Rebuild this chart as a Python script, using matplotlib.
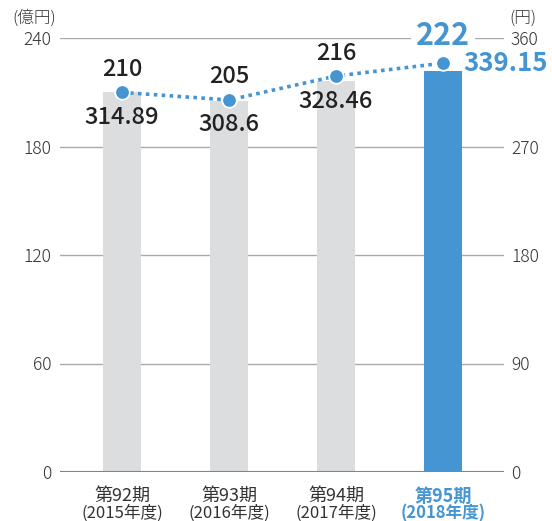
import matplotlib
matplotlib.use("Agg")
import matplotlib.pyplot as plt

plt.rcParams['font.family'] = ['Noto Sans CJK JP', 'DejaVu Sans']

periods = ["第92期", "第93期", "第94期", "第95期"]
years = ["(2015年度)", "(2016年度)", "(2017年度)", "(2018年度)"]
sales = [210, 205, 216, 222]          # 億円 (left axis)
eps = [314.89, 308.6, 328.46, 339.15]  # 円 (right axis)
sales_labels = ["210", "205", "216", "222"]
eps_labels = ["314.89", "308.6", "328.46", "339.15"]
left_ticks = [0, 60, 120, 180, 240]
right_ticks = [0, 90, 180, 270, 360]

BLUE = "#4495d1"
GRAY = "#dcdddf"
TXT = "#333333"

fig = plt.figure(figsize=(5.52, 5.21), dpi=100)
W, H = 552, 521
ax = fig.add_axes([60 / W, 1 - 472 / H, 444 / W, 434 / H])
ax2 = ax.twinx()

x = list(range(len(sales)))
colors = [GRAY] * (len(sales) - 1) + [BLUE]
ax.bar(x, sales, width=0.355, color=colors, zorder=2)
ax.set_xlim(-0.58, 3.57)
ax.set_ylim(0, 240)
ax2.set_ylim(0, 360)

for v in left_ticks[1:]:
    ax.axhline(v, color="#aaaaaa", lw=1, zorder=1)
ax.axhline(0, color=BLUE, lw=1.5, zorder=3)

for a in (ax, ax2):
    for s in a.spines.values():
        s.set_visible(False)
    a.tick_params(length=0)

ax.set_yticks(left_ticks)
ax.set_yticklabels([str(v) for v in left_ticks], fontsize=12.5, color=TXT, fontweight="light")
ax.tick_params(axis="y", pad=6)
ax2.set_yticks(right_ticks)
ax2.set_yticklabels([str(v) for v in right_ticks], fontsize=12.5, color=TXT, fontweight="light")
ax2.tick_params(axis="y", pad=5)

ax.set_xticks(x)
ax.set_xticklabels([])
for i in x:
    c = BLUE if i == len(x) - 1 else TXT
    w = "bold" if i == len(x) - 1 else "normal"
    ax.annotate(periods[i], (i, 0), xytext=(0, -24), textcoords="offset pixels",
                ha="center", va="center", fontsize=13, color=c, fontweight=w)
    ax.annotate(years[i], (i, 0), xytext=(0, -41), textcoords="offset pixels",
                ha="center", va="center", fontsize=12, color=c, fontweight=w)

ax2.plot(x, eps, color=BLUE, ls=(0, (1, 1.2)), lw=2.6, zorder=4)
ax2.plot(x, eps, 'o', color=BLUE, ms=10.5, mec="white", mew=1.3, zorder=5)

for i in x[:-1]:
    ax2.annotate(sales_labels[i], (i, eps[i]), xytext=(0, 23), textcoords="offset pixels",
                 ha="center", va="center", fontsize=17, color="#222222", fontweight="medium")
    ax2.annotate(eps_labels[i], (i, eps[i]), xytext=(0, -25), textcoords="offset pixels",
                 ha="center", va="center", fontsize=17, color="#222222", fontweight="medium")
i = x[-1]
ax2.annotate(sales_labels[i], (i, eps[i]), xytext=(0, 27), textcoords="offset pixels",
             ha="center", va="center", fontsize=22, color=BLUE, fontweight="bold",
             bbox=dict(boxstyle="square,pad=0.15", fc="white", ec="none"), zorder=6)
ax2.annotate(eps_labels[i], (i, eps[i]), xytext=(20, 0), textcoords="offset pixels",
             ha="left", va="center", fontsize=18.5, color=BLUE, fontweight="bold", zorder=7)

fig.text(12 / W, 1 - 18 / H, "(億円)", fontsize=12, color=TXT, ha="left", va="center", fontweight="light")
fig.text(509 / W, 1 - 18 / H, "(円)", fontsize=12, color=TXT, ha="left", va="center", fontweight="light")

fig.savefig("out.png", dpi=100)
